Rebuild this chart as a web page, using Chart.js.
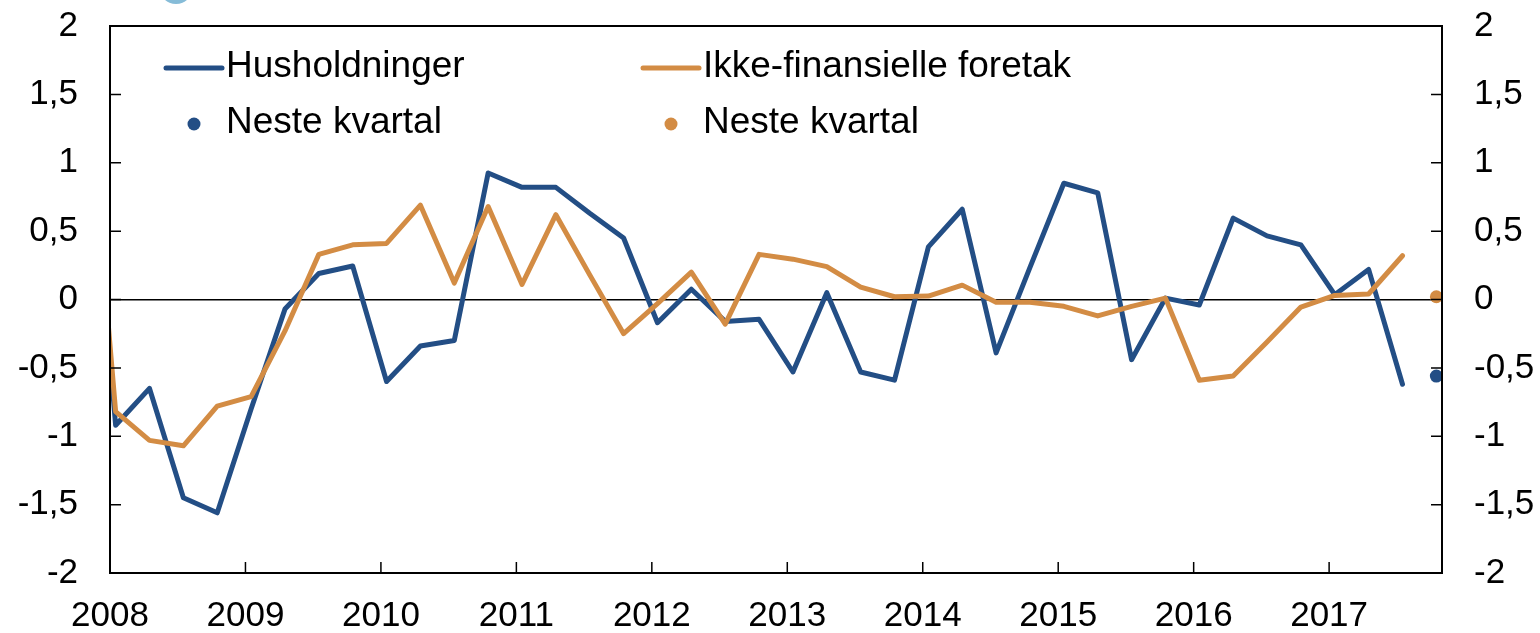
<!DOCTYPE html>
<html lang="no">
<head>
<meta charset="utf-8">
<title>Husholdninger og ikke-finansielle foretak</title>
<script src="https://cdn.jsdelivr.net/npm/chart.js@4.4.1/dist/chart.umd.min.js"></script>
<style>
  html, body { margin: 0; padding: 0; background: #fff; }
  #wrap { position: relative; width: 1540px; height: 633px; overflow: hidden; }
  #logo { position: absolute; left: 159px; top: -30px; width: 34px; height: 34px; border-radius: 50%; background: #86bcd8; }
</style>
</head>
<body>
<div id="wrap">
  <canvas id="graf"></canvas>
  <div id="logo"></div>
</div>
<script>
// kvartaler (første punkt ligger før akseskjæringen og klippes)
const kvartaler = [
  '2007K4',
  '2008K1', '2008K2', '2008K3', '2008K4',
  '2009K1', '2009K2', '2009K3', '2009K4',
  '2010K1', '2010K2', '2010K3', '2010K4',
  '2011K1', '2011K2', '2011K3', '2011K4',
  '2012K1', '2012K2', '2012K3', '2012K4',
  '2013K1', '2013K2', '2013K3', '2013K4',
  '2014K1', '2014K2', '2014K3', '2014K4',
  '2015K1', '2015K2', '2015K3', '2015K4',
  '2016K1', '2016K2', '2016K3', '2016K4',
  '2017K1', '2017K2', '2017K3'
];

const husholdninger = [
  2.0, -0.92, -0.65, -1.45, -1.56, -0.80, -0.07, 0.19, 0.245, -0.60,
  -0.34, -0.30, 0.925, 0.82, 0.82, 0.63, 0.45, -0.17, 0.075, -0.16,
  -0.145, -0.53, 0.05, -0.53, -0.59, 0.385, 0.66, -0.39, 0.235, 0.85,
  0.78, -0.44, 0.01, -0.04, 0.595, 0.465, 0.40, 0.035, 0.22, -0.62
];

const foretak = [
  2.1, -0.82, -1.03, -1.07, -0.78, -0.71, -0.23, 0.33, 0.40, 0.41,
  0.69, 0.12, 0.68, 0.11, 0.62, 0.18, -0.25, -0.03, 0.20, -0.18,
  0.33, 0.295, 0.24, 0.09, 0.02, 0.025, 0.105, -0.02, -0.02, -0.05,
  -0.12, -0.05, 0.01, -0.59, -0.56, -0.31, -0.055, 0.03, 0.04, 0.32
];

const nesteKvartal = '2017K4';
const nesteHusholdninger = -0.56;
const nesteForetak = 0.02;

const aarstall = [2008, 2009, 2010, 2011, 2012, 2013, 2014, 2015, 2016, 2017];
const yVerdier = [-2, -1.5, -1, -0.5, 0, 0.5, 1, 1.5, 2];

const BLA = '#234e85';
const ORANSJE = '#d38c44';

// kvartal plasseres midt i kvartalets første måned (månedsakse)
function tilAar(k) {
  const aar = Number(k.slice(0, 4));
  const q = Number(k.slice(5));
  return aar + (3 * (q - 1) + 0.5) / 12;
}

const xMin = 2008;
const xMax = 2017 + 10 / 12;

const punkter = (verdier) => kvartaler.map((k, i) => ({ x: tilAar(k), y: verdier[i] }));
const komma = (v) => String(v).replace('.', ',');

// ramme rundt plottet og tikkmerker som peker innover
const rammePlugin = {
  id: 'ramme',
  afterDatasetsDraw(chart) {
    const { ctx, chartArea: a, scales } = chart;
    ctx.save();
    ctx.strokeStyle = '#000';
    ctx.lineWidth = 2;
    ctx.strokeRect(a.left, a.top, a.right - a.left, a.bottom - a.top);
    ctx.lineWidth = 1.5;
    ctx.beginPath();
    aarstall.forEach(v => {
      const px = scales.x.getPixelForValue(v);
      ctx.moveTo(px, a.bottom);
      ctx.lineTo(px, a.bottom - 11);
    });
    yVerdier.forEach(v => {
      const py = scales.y.getPixelForValue(v);
      ctx.moveTo(a.left, py);
      ctx.lineTo(a.left + 11, py);
      ctx.moveTo(a.right, py);
      ctx.lineTo(a.right - 11, py);
    });
    ctx.stroke();
    ctx.restore();
  }
};

// forklaring i to kolonner inne i plottet
const forklaringPlugin = {
  id: 'forklaring',
  afterDraw(chart) {
    const { ctx, chartArea: a } = chart;
    const plass = [
      { ds: 0, x: 56, y: 42 },
      { ds: 1, x: 533, y: 42 },
      { ds: 2, x: 56, y: 98 },
      { ds: 3, x: 533, y: 98 }
    ];
    ctx.save();
    ctx.font = "37px 'Liberation Sans', Arial, sans-serif";
    ctx.textBaseline = 'middle';
    ctx.textAlign = 'left';
    plass.forEach(p => {
      const ds = chart.data.datasets[p.ds];
      const x = a.left + p.x;
      const y = a.top + p.y;
      if (ds.showLine === false) {
        ctx.fillStyle = ds.backgroundColor;
        ctx.beginPath();
        ctx.arc(x + 28, y, 6.5, 0, Math.PI * 2);
        ctx.fill();
      } else {
        ctx.strokeStyle = ds.borderColor;
        ctx.lineWidth = 5;
        ctx.lineCap = 'round';
        ctx.beginPath();
        ctx.moveTo(x, y);
        ctx.lineTo(x + 56, y);
        ctx.stroke();
      }
      ctx.fillStyle = '#000';
      ctx.fillText(ds.label, x + 60, y - 1);
    });
    ctx.restore();
  }
};

Chart.defaults.font.family = "'Liberation Sans', Arial, sans-serif";
Chart.defaults.font.size = 35;
Chart.defaults.color = '#000';

// fast aksebredde, uten ekstra luft over/under for etikettene
const fastBredde = (bredde) => (s) => {
  s.width = bredde;
  s.paddingTop = 0;
  s.paddingBottom = 0;
};

new Chart(document.getElementById('graf'), {
  type: 'line',
  data: {
    datasets: [
      {
        label: 'Husholdninger',
        data: punkter(husholdninger),
        borderColor: BLA,
        backgroundColor: BLA,
        borderWidth: 5,
        borderJoinStyle: 'round',
        borderCapStyle: 'round',
        pointRadius: 0,
        tension: 0,
        clip: 0,
        order: 2
      },
      {
        label: 'Ikke-finansielle foretak',
        data: punkter(foretak),
        borderColor: ORANSJE,
        backgroundColor: ORANSJE,
        borderWidth: 5,
        borderJoinStyle: 'round',
        borderCapStyle: 'round',
        pointRadius: 0,
        tension: 0,
        clip: 0,
        order: 1
      },
      {
        label: 'Neste kvartal',
        data: [{ x: tilAar(nesteKvartal), y: nesteHusholdninger }],
        showLine: false,
        backgroundColor: BLA,
        borderColor: BLA,
        borderWidth: 0,
        pointRadius: 6.5,
        order: 0
      },
      {
        label: 'Neste kvartal',
        data: [{ x: tilAar(nesteKvartal), y: nesteForetak }],
        showLine: false,
        backgroundColor: ORANSJE,
        borderColor: ORANSJE,
        borderWidth: 0,
        pointRadius: 6.5,
        order: 0
      }
    ]
  },
  options: {
    responsive: true,
    maintainAspectRatio: false,
    animation: false,
    layout: { padding: { top: 26, left: 0, right: 0, bottom: 0 } },
    plugins: {
      legend: { display: false },
      tooltip: { enabled: false }
    },
    scales: {
      x: {
        type: 'linear',
        min: xMin,
        max: xMax,
        afterBuildTicks: (s) => { s.ticks = aarstall.map(v => ({ value: v })); },
        afterFit: (s) => { s.height = 60; },
        ticks: { padding: 22, maxRotation: 0, autoSkip: false, callback: (v) => String(v) },
        grid: { display: false, drawTicks: false },
        border: { display: false }
      },
      y: {
        position: 'left',
        min: -2,
        max: 2,
        afterBuildTicks: (s) => { s.ticks = yVerdier.map(v => ({ value: v })); },
        afterFit: fastBredde(110),
        ticks: { padding: 32, callback: komma },
        grid: {
          drawTicks: false,
          lineWidth: 1.5,
          color: (c) => (c.tick && c.tick.value === 0 ? '#000' : 'rgba(0,0,0,0)')
        },
        border: { display: false }
      },
      y2: {
        position: 'right',
        min: -2,
        max: 2,
        afterBuildTicks: (s) => { s.ticks = yVerdier.map(v => ({ value: v })); },
        afterFit: fastBredde(98),
        ticks: { padding: 32, callback: komma },
        grid: { drawOnChartArea: false, drawTicks: false },
        border: { display: false }
      }
    }
  },
  plugins: [rammePlugin, forklaringPlugin]
});
</script>
</body>
</html>
